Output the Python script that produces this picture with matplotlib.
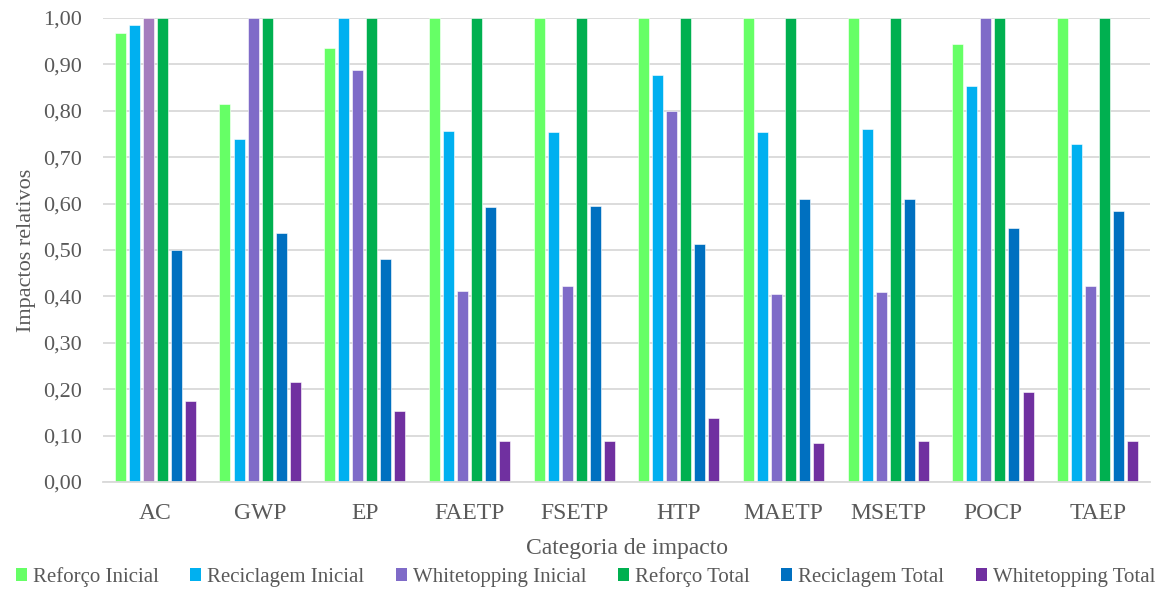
import matplotlib
matplotlib.use("Agg")
import matplotlib.pyplot as plt
from matplotlib.patches import Patch
import numpy as np

categories = ["AC", "GWP", "EP", "FAETP", "FSETP", "HTP", "MAETP", "MSETP", "POCP", "TAEP"]

reforco_inicial = [0.968, 0.815, 0.936, 1.00, 1.00, 1.00, 1.00, 1.00, 0.944, 1.00]
reciclagem_inicial = [0.985, 0.740, 1.00, 0.757, 0.754, 0.878, 0.754, 0.761, 0.853, 0.729]
whitetopping_inicial = [1.00, 1.00, 0.888, 0.412, 0.422, 0.799, 0.405, 0.409, 1.00, 0.422]
reforco_total = [1.00, 1.00, 1.00, 1.00, 1.00, 1.00, 1.00, 1.00, 1.00, 1.00]
reciclagem_total = [0.499, 0.536, 0.481, 0.592, 0.595, 0.512, 0.609, 0.609, 0.547, 0.585]
whitetopping_total = [0.175, 0.216, 0.154, 0.088, 0.088, 0.137, 0.085, 0.088, 0.195, 0.088]

series_names = ["Reforço Inicial", "Reciclagem Inicial", "Whitetopping Inicial",
                "Reforço Total", "Reciclagem Total", "Whitetopping Total"]
series_values = [reforco_inicial, reciclagem_inicial, whitetopping_inicial,
                 reforco_total, reciclagem_total, whitetopping_total]
series_colors = ["#66FF66", "#00B0F0", "#7F6BC8", "#00B050", "#0070C0", "#7030A0"]

text_color = "#595959"
grid_color = "#D9D9D9"

plt.rcParams["font.family"] = ["Liberation Serif", "DejaVu Serif"]

fig = plt.figure(figsize=(11.71, 5.90), dpi=100)
ax = fig.add_axes([103 / 1171, 1 - 482 / 590, (1150 - 103) / 1171, (482 - 18) / 590])

x = np.arange(len(categories))
pitch = 0.134
width = 0.105
for j, (vals, col) in enumerate(zip(series_values, series_colors)):
    colors = [col] * len(categories)
    if j == 2:
        colors[0] = "#A47CBE"  # AC bar uses a lighter violet
    ax.bar(x + (j - 2.5) * pitch, vals, width=width, color=colors,
           edgecolor="white", linewidth=0.4, zorder=3)

ax.set_xlim(-0.5, len(categories) - 0.5)
ax.set_ylim(0, 1.0)
ax.set_yticks(np.arange(0, 1.01, 0.1))
ax.set_yticklabels([f"{v:.2f}".replace(".", ",") for v in np.arange(0, 1.01, 0.1)])
ax.set_xticks(x)
ax.set_xticklabels(categories)

ax.yaxis.grid(True, color=grid_color, linewidth=1.3, zorder=0)
ax.set_axisbelow(True)
for s in ["top", "right", "left"]:
    ax.spines[s].set_visible(False)
ax.spines["bottom"].set_color(grid_color)
ax.spines["bottom"].set_linewidth(1.3)
ax.spines["bottom"].set_zorder(4)
ax.tick_params(axis="both", length=0, colors=text_color)
ax.tick_params(axis="y", labelsize=16, pad=15)
ax.tick_params(axis="x", labelsize=17, pad=15)

ax.set_xlabel("Categoria de impacto", fontsize=17, color=text_color, labelpad=10)
ax.set_ylabel("Impactos relativos", fontsize=16, color=text_color, labelpad=5)

handles = [Patch(facecolor=c, edgecolor="none") for c in series_colors]
fig.legend(handles, series_names, loc="center", bbox_to_anchor=(0.5, 1 - 577 / 590),
           ncol=6, frameon=False, fontsize=15, handlelength=0.53, handleheight=0.53,
           handletextpad=0.3, columnspacing=1.5, labelcolor=text_color,
           borderaxespad=0, borderpad=0)

fig.savefig("out.png", dpi=100)
